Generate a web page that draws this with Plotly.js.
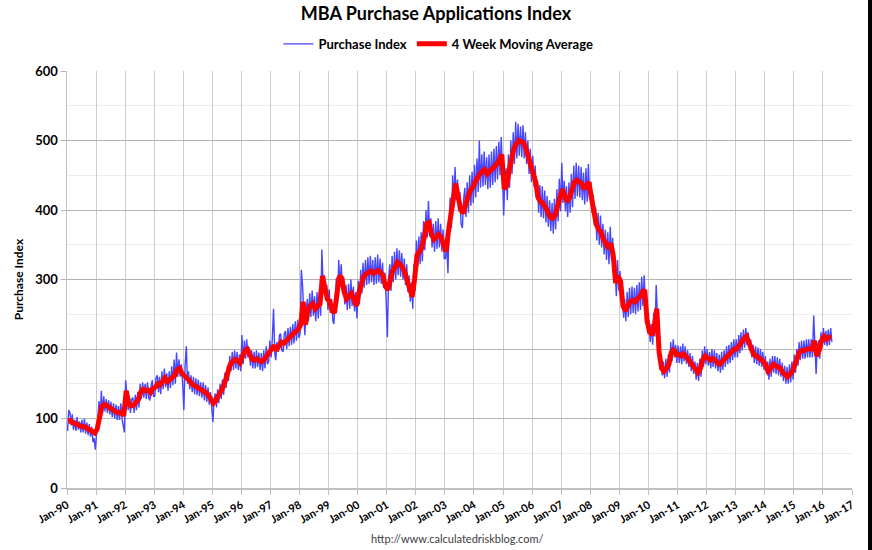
<!DOCTYPE html>
<html>
<head>
<meta charset="utf-8">
<script src="https://cdn.plot.ly/plotly-3.0.1.min.js"></script>
<style>
  html, body { margin: 0; padding: 0; background: #fff; }
  #chart { width: 872px; height: 550px; }
</style>
</head>
<body>
<div id="chart"></div>
<script>
// 4 week moving average, one value per month, Jan 1990 .. Apr 2016
var avg1990s = [
  96, 97, 94, 92, 91, 89, 88, 88, 86, 84, 81, 79,
  85, 108, 117, 120, 119, 116, 113, 111, 109, 108, 109, 104,
  140, 122, 118, 119, 123, 127, 138, 142, 140, 141, 137, 143,
  145, 150, 148, 155, 158, 153, 156, 160, 162, 170, 172, 165,
  162, 158, 155, 150, 148, 146, 144, 141, 139, 137, 133, 128,
  122, 126, 132, 138, 145, 155, 165, 178, 182, 185, 183, 180,
  190, 198, 200, 190, 185, 184, 186, 183, 182, 185, 190, 195,
  200, 205, 198, 206, 210, 208, 212, 216, 218, 222, 225, 228,
  235, 268, 235, 255, 262, 265, 258, 262, 265, 305, 290, 272,
  268, 255, 252, 282, 305, 302, 282, 272, 275, 280, 272, 262
];
var avg2000s = [
  280, 295, 304, 308, 310, 312, 309, 311, 313, 310, 305, 290,
  285, 300, 312, 318, 325, 322, 318, 310, 300, 285, 275, 300,
  335, 340, 345, 360, 380, 382, 365, 358, 362, 365, 360, 350,
  340, 370, 395, 425, 438, 420, 402, 395, 410, 418, 428, 432,
  440, 448, 452, 456, 458, 452, 455, 458, 462, 466, 472, 480,
  430, 435, 455, 475, 488, 495, 500, 498, 497, 488, 475, 462,
  455, 440, 418, 412, 410, 405, 398, 390, 388, 392, 405, 420,
  430, 420, 412, 418, 428, 440, 443, 440, 438, 430, 435, 440,
  418, 400, 380, 372, 368, 358, 350, 345, 352, 335, 295, 305,
  298, 262, 255, 262, 268, 270, 268, 272, 275, 282, 285, 240
];
var avg2010s = [
  225, 220, 232, 258, 195, 172, 168, 172, 178, 195, 200, 192,
  192, 190, 193, 190, 185, 180, 176, 168, 166, 172, 185, 190,
  188, 184, 186, 184, 180, 178, 182, 186, 190, 192, 196, 200,
  200, 206, 210, 215, 218, 210, 200, 192, 190, 188, 186, 182,
  176, 168, 172, 178, 176, 174, 172, 166, 162, 160, 164, 168,
  178, 188, 196, 198, 198, 200, 200, 200, 212, 190, 198, 212,
  218, 214, 217, 216
];

// purchase index, two readings per month (early / late), Jan 1990 .. Apr 2016
var idx1990s = [
  82,112, 108,90, 106,84, 98,82, 102,84, 96,80, 98,80, 100,78, 94,76, 92,74, 88,66, 72,55,
  78,98, 125,100, 140,108, 132,110, 128,108, 126,106, 124,102, 122,100, 120,98, 118,98, 122,100, 92,80,
  155,130, 112,132, 108,128, 130,108, 134,112, 138,116, 150,128, 152,130, 150,128, 152,130, 126,148, 155,132,
  132,158, 162,138, 160,135, 168,142, 172,145, 165,140, 168,144, 175,148, 185,150, 195,160, 185,160, 178,152,
  112,175, 204,150, 168,142, 162,138, 160,135, 158,134, 156,132, 152,130, 152,126, 148,124, 145,120, 138,116,
  95,128, 136,116, 142,122, 150,128, 156,134, 166,144, 176,154, 190,168, 196,170, 198,172, 196,170, 192,168,
  220,178, 212,186, 214,188, 202,176, 198,172, 196,172, 198,174, 195,170, 194,168, 198,172, 204,178, 182,212,
  188,214, 258,194, 184,210, 196,220, 222,198, 196,222, 226,200, 230,204, 232,206, 236,208, 240,212, 242,216,
  222,314, 290,248, 220,252, 272,240, 280,246, 284,248, 276,240, 282,244, 284,248, 343,292, 306,276, 292,256,
  286,252, 272,240, 236,268, 302,266, 328,290, 322,286, 302,264, 292,256, 294,258, 300,262, 290,254, 282,244
];
var idx2000s = [
  298,264, 314,280, 324,288, 328,292, 332,294, 334,296, 328,292, 332,294, 336,296, 330,294, 324,288, 310,272,
  217,302, 322,284, 334,296, 340,300, 345,306, 342,304, 338,300, 330,292, 322,282, 306,268, 296,258, 322,284,
  356,318, 362,322, 368,326, 384,342, 400,360, 413,362, 388,346, 380,340, 384,344, 388,346, 380,340, 372,330,
  330,352, 309,385, 418,374, 450,404, 462,414, 444,398, 426,380, 374,414, 432,390, 440,396, 450,406, 455,410,
  465,418, 474,426, 500,432, 480,434, 484,436, 476,430, 480,432, 484,436, 488,440, 492,444, 498,450, 505,458,
  392,448, 460,414, 480,432, 500,452, 512,466, 527,474, 524,478, 520,476, 522,474, 512,466, 500,452, 488,440,
  478,434, 464,418, 442,396, 436,390, 434,388, 428,382, 420,376, 414,370, 410,366, 416,372, 430,384, 445,398,
  468,410, 442,398, 434,390, 440,396, 452,404, 464,416, 468,420, 464,418, 462,414, 454,408, 460,412, 466,418,
  440,396, 422,378, 404,356, 396,350, 392,346, 380,336, 372,328, 368,322, 376,330, 360,312, 318,276, 328,284,
  312,280, 280,245, 272,240, 282,246, 288,250, 290,252, 288,250, 292,254, 296,256, 304,262, 306,266, 260,222
];
var idx2010s = [
  242,210, 236,206, 252,218, 292,250, 210,178, 185,162, 182,158, 186,160, 192,166, 210,182, 214,188, 206,180,
  205,180, 204,178, 208,182, 204,178, 198,174, 194,168, 190,164, 182,156, 180,154, 186,160, 198,174, 204,178,
  200,176, 196,172, 200,174, 198,172, 194,168, 192,166, 196,170, 198,174, 204,178, 206,180, 210,184, 214,188,
  214,188, 220,194, 224,198, 228,202, 230,206, 224,198, 214,188, 206,180, 204,178, 202,176, 200,174, 196,170,
  190,164, 182,156, 186,160, 190,166, 190,164, 188,162, 186,160, 180,154, 176,150, 174,150, 178,152, 182,156,
  192,166, 200,176, 210,184, 212,186, 212,186, 214,188, 214,188, 214,188, 248,200, 164,204, 212,186, 224,202,
  230,206, 226,204, 228,206, 230,210
];

var startYear = 1990;

function pad(n){ return (n < 10 ? '0' : '') + n; }

function monthDate(i, day){
  var y = startYear + Math.floor(i / 12);
  var m = i % 12 + 1;
  return y + '-' + pad(m) + '-' + pad(day);
}

var avgVals = avg1990s.concat(avg2000s, avg2010s);
var idxVals = idx1990s.concat(idx2000s, idx2010s);

var avgDates = avgVals.map(function(v, i){ return monthDate(i, 15); });
var idxDates = idxVals.map(function(v, i){ return monthDate(Math.floor(i / 2), i % 2 ? 23 : 8); });

var fam = 'Lato, "Liberation Sans", sans-serif';

var indexTrace = {
  x: idxDates, y: idxVals, type: 'scatter', mode: 'lines',
  name: 'Purchase Index',
  line: {color: 'rgb(70,70,255)', width: 1.4}
};
var avgTrace = {
  x: avgDates, y: avgVals, type: 'scatter', mode: 'lines',
  name: '4 Week Moving Average',
  line: {color: 'rgb(255,0,0)', width: 5}
};

var layout = {
  width: 872, height: 550,
  margin: {l: 67, r: 20, t: 71, b: 62},
  paper_bgcolor: '#fff', plot_bgcolor: '#fff',
  title: {
    text: 'MBA Purchase Applications Index',
    x: 0.5, xref: 'container', xanchor: 'center',
    y: 0.975, yref: 'container', yanchor: 'middle',
    font: {family: fam, weight: 'bold', size: 18, color: '#000'}
  },
  showlegend: true,
  legend: {
    orientation: 'h', x: 0.4732, xanchor: 'center', y: 1.065, yanchor: 'middle',
    font: {family: fam, weight: 'bold', size: 13, color: '#000'},
    itemwidth: 30, tracegroupgap: 0
  },
  xaxis: {
    type: 'date',
    range: ['1990-01-01', '2017-01-01'],
    tick0: '1990-01-01', dtick: 'M12',
    tickformat: '%b-%y', tickangle: -30,
    tickfont: {family: fam, weight: 'bold', size: 11, color: '#000'},
    showgrid: true, gridcolor: '#cccccc', gridwidth: 1,
    ticks: 'outside', ticklen: 5, tickcolor: '#bfbfbf',
    showline: true, linecolor: '#bfbfbf', linewidth: 1.5,
    zeroline: false, fixedrange: true
  },
  yaxis: {
    range: [0, 600], dtick: 100, tick0: 0,
    tickfont: {family: fam, weight: 'bold', size: 13, color: '#000'},
    title: {text: 'Purchase Index', standoff: 9,
      font: {family: fam, weight: 'bold', size: 12, color: '#000'}},
    showgrid: true, gridcolor: '#b3b3b3', gridwidth: 1,
    minor: {dtick: 50, showgrid: true, gridcolor: '#ededed', gridwidth: 1},
    ticks: 'outside', ticklen: 5, tickcolor: '#b3b3b3',
    showline: true, linecolor: '#bfbfbf', linewidth: 1.5,
    zeroline: false, fixedrange: true
  },
  annotations: [{
    text: 'http://www.calculatedriskblog.com/',
    xref: 'paper', yref: 'paper', x: 0.498, y: -0.12,
    xanchor: 'center', yanchor: 'middle', showarrow: false,
    font: {family: fam, size: 11, color: '#404040'}
  }],
  shapes: [{
    type: 'rect', xref: 'paper', yref: 'paper',
    x0: 1.0204, x1: 1.03, y0: -0.2, y1: 1.2,
    fillcolor: '#000', line: {width: 0}
  }]
};

Plotly.newPlot('chart', [indexTrace, avgTrace], layout, {displayModeBar: false, staticPlot: true});
</script>
</body>
</html>
